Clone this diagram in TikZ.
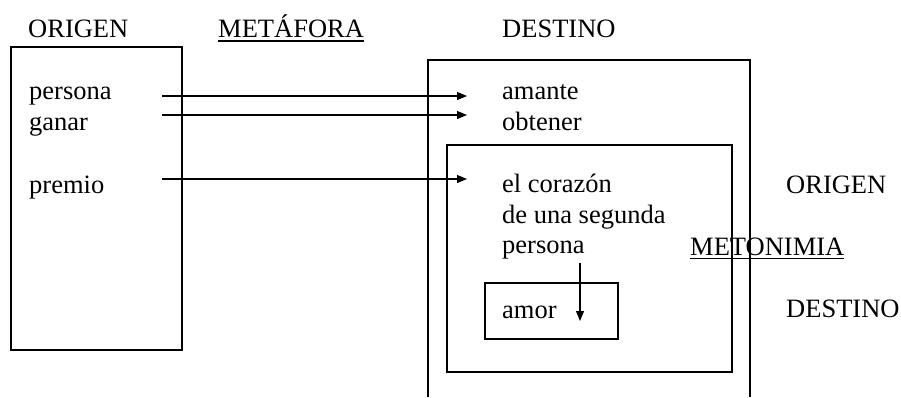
\documentclass[tikz,border=0pt]{standalone}
\usepackage{fontspec}
\setmainfont{Liberation Serif}
\usetikzlibrary{arrows.meta}
\begin{document}
\begin{tikzpicture}[x=1pt,y=-1pt,
  lbl/.style={anchor=base west,inner sep=0pt,font=\fontsize{26.5}{30}\selectfont},
  boxline/.style={line width=1.3pt},
  conn/.style={line width=1.2pt,-{Triangle[length=10pt,width=8pt]}},
  uline/.style={line width=1.3pt}]
\useasboundingbox (0,0) rectangle (901,397);
% headers
\node[lbl] (origen) at (28,37) {ORIGEN};
\node[lbl] (metafora) at (218,37) {METÁFORA};
\node[lbl] (destino) at (502,37) {DESTINO};
\draw[uline] ([yshift=-4pt]metafora.base west) -- ([yshift=-4pt]metafora.base east);
% boxes
\draw[boxline] (11,47) rectangle (182,350);
\draw[boxline] (428,397) -- (428,60) -- (750,60) -- (750,397);
\draw[boxline] (447,145) rectangle (732,372);
\draw[boxline] (485,283) rectangle (618,339);
% left texts
\node[lbl] (persona) at (29,99) {persona};
\node[lbl] (ganar) at (29,130) {ganar};
\node[lbl] (premio) at (29,193) {premio};
% right texts
\node[lbl] (amante) at (502,99) {amante};
\node[lbl] (obtener) at (502,130) {obtener};
\node[lbl] (corazon) at (502,192) {el corazón};
\node[lbl] (segunda) at (502,223) {de una segunda};
\node[lbl] (persona2) at (502,253) {persona};
\node[lbl] (amor) at (502,318) {amor};
% metonimia labels
\node[lbl] (origen2) at (786,193) {ORIGEN};
\node[lbl] (metonimia) at (690,255) {METONIMIA};
\node[lbl] (destino2) at (786,317) {DESTINO};
\draw[uline] ([yshift=-3.5pt]metonimia.base west) -- ([yshift=-3.5pt]metonimia.base east);
% arrow coordinates
\coordinate (s1) at (162,96);
\coordinate (t1) at (467,96);
\coordinate (s2) at (162,115);
\coordinate (t2) at (467,115);
\coordinate (s3) at (162,179);
\coordinate (t3) at (467,179);
\coordinate (s4) at (580,263);
\coordinate (t4) at (580,321);
\draw[conn] (s1) -- (t1);
\draw[conn] (s2) -- (t2);
\draw[conn] (s3) -- (t3);
\draw[conn] (s4) -- (t4);
\end{tikzpicture}
\end{document}
